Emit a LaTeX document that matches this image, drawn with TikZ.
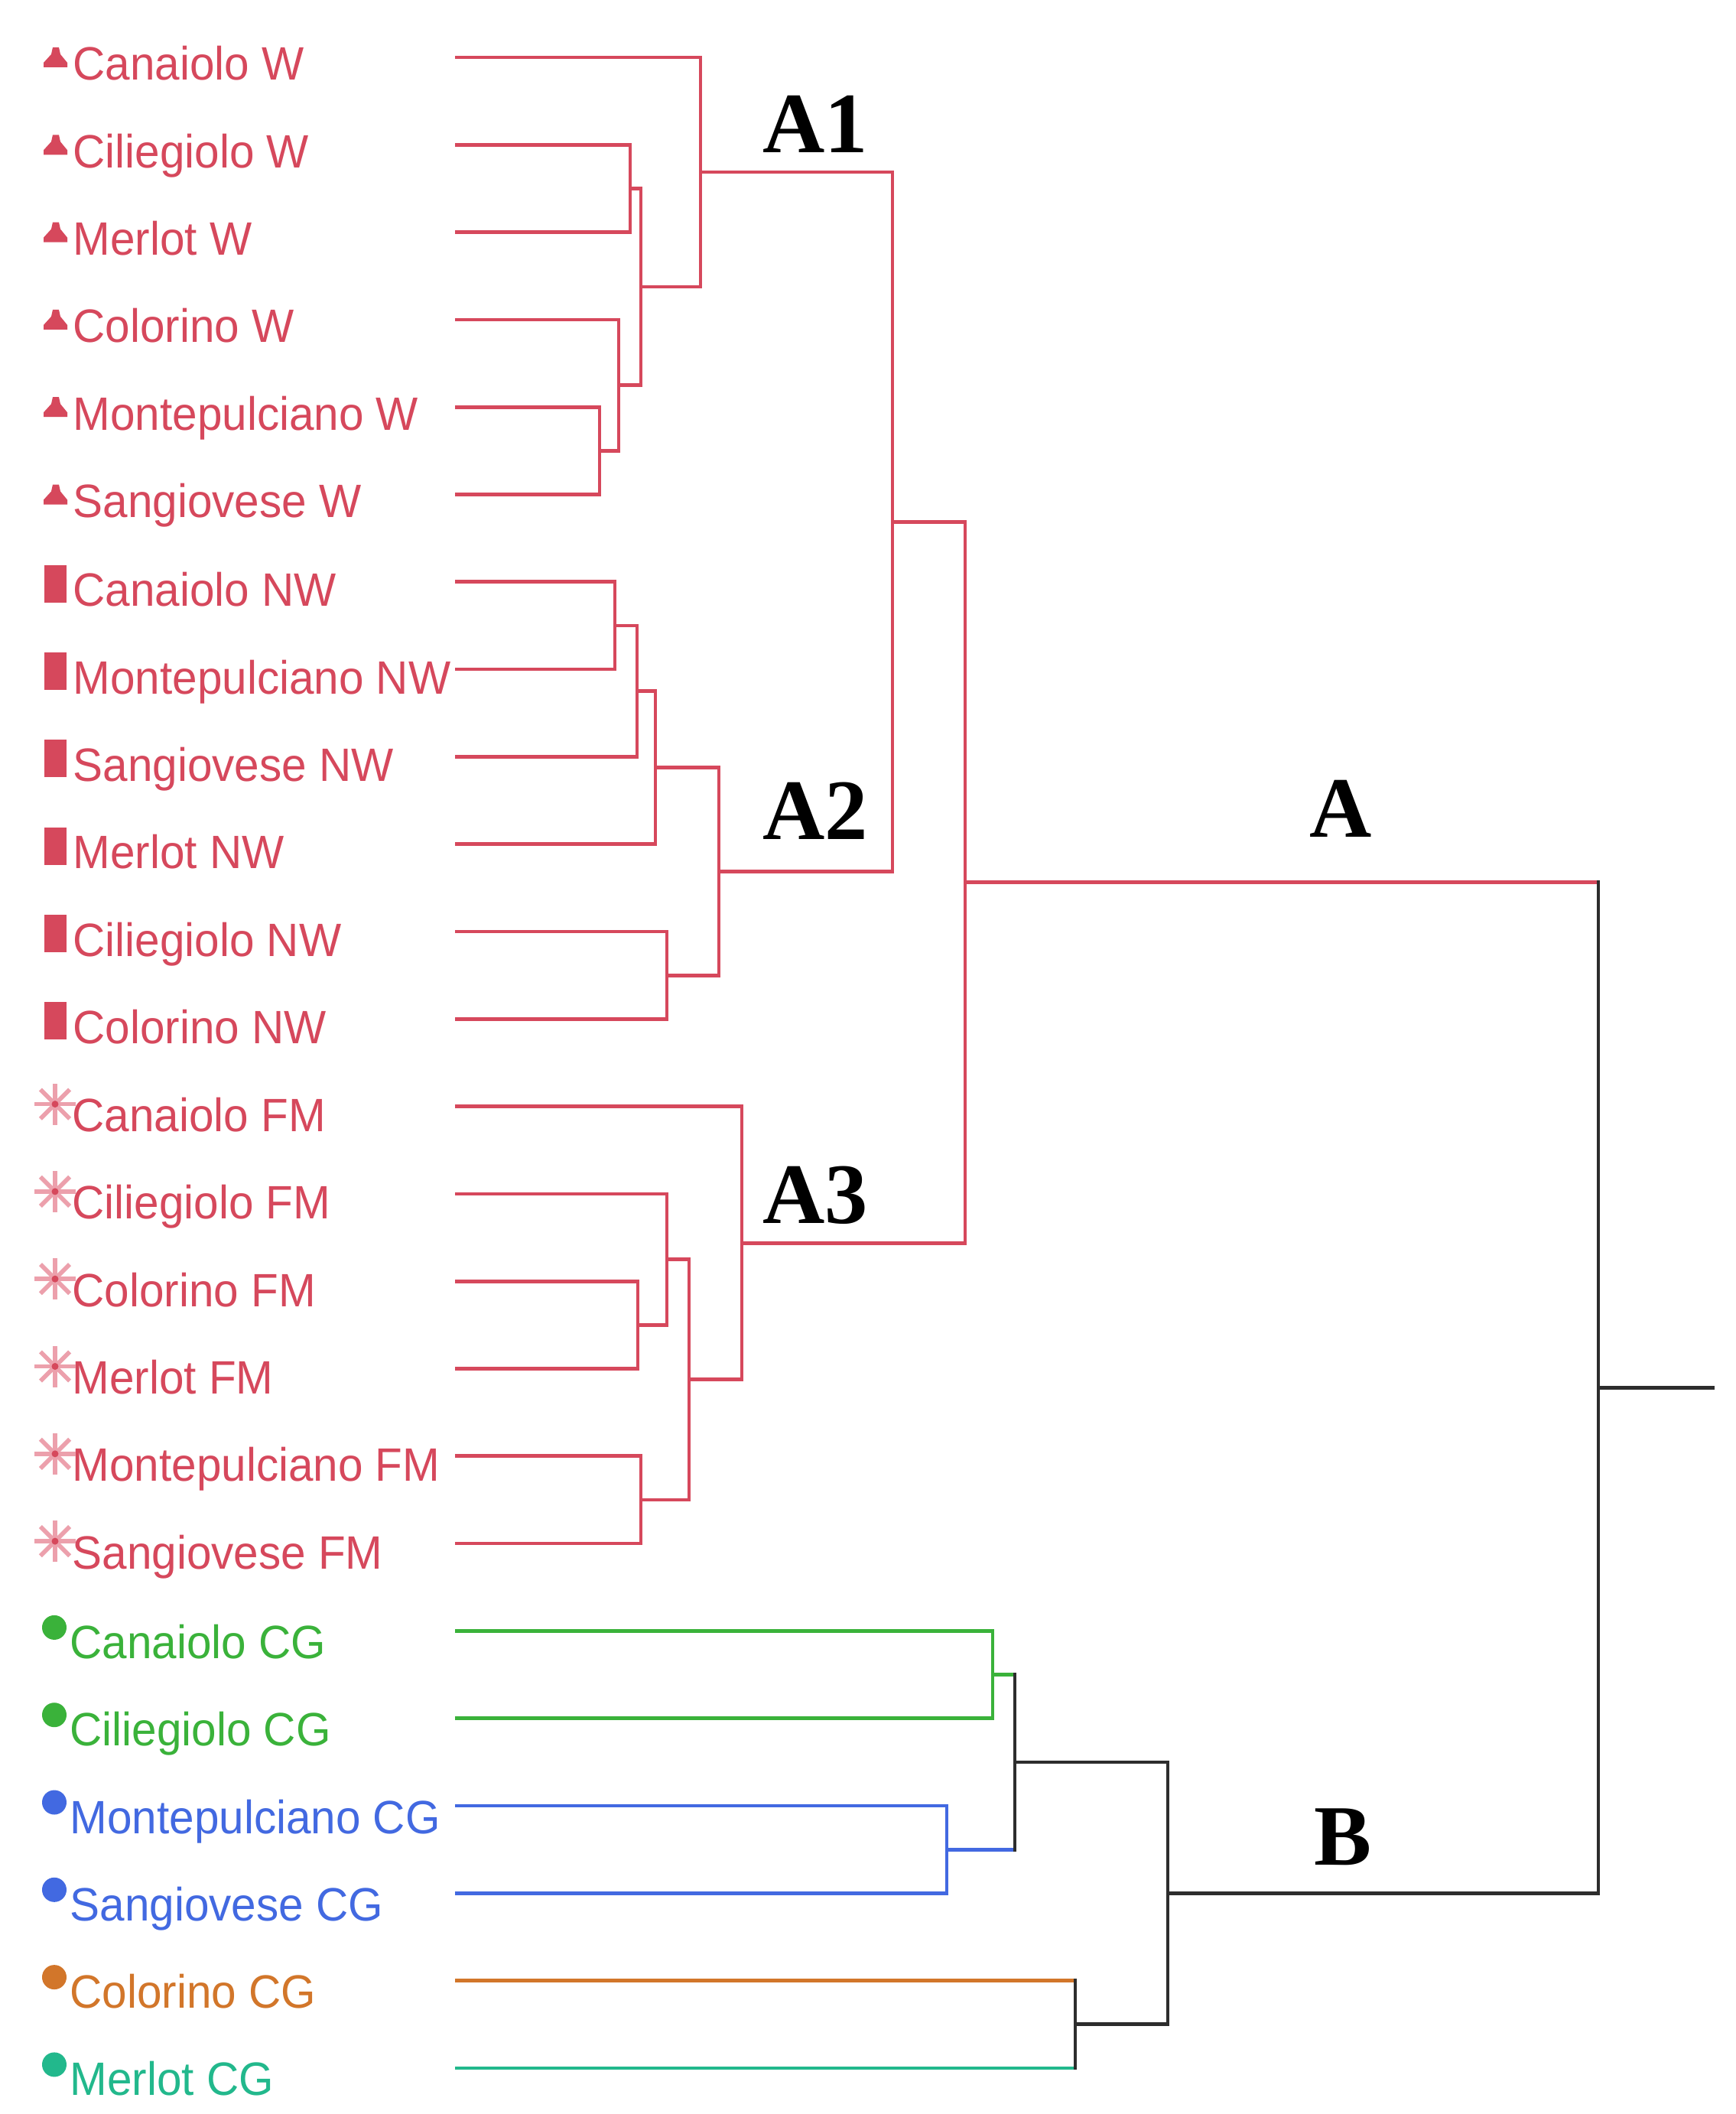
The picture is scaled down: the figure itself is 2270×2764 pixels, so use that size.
\documentclass[tikz,border=0pt]{standalone}
\usepackage{fontspec}
\usepackage{graphicx}
\newfontfamily\labfont{Liberation Sans}
\newfontfamily\grpfont{Liberation Serif}
\definecolor{cred}{RGB}{214,72,92}
\definecolor{cpink}{RGB}{236,160,172}
\definecolor{cgreen}{RGB}{58,178,58}
\definecolor{cblue}{RGB}{66,105,225}
\definecolor{corange}{RGB}{210,118,42}
\definecolor{cteal}{RGB}{34,184,140}
\definecolor{cdark}{RGB}{45,45,45}
\tikzset{
  leaftext/.style={inner sep=0pt, anchor=base west, font=\labfont\fontsize{17.4pt}{20pt}\selectfont},
  grp/.style={inner sep=0pt, anchor=base west, font=\grpfont\bfseries\fontsize{32pt}{36pt}\selectfont},
  ln/.style={line width=1.35pt, line cap=rect, line join=miter},
  rl/.style={ln, draw=cred},
  gl/.style={ln, draw=cgreen},
  bul/.style={ln, draw=cblue},
  ol/.style={ln, draw=corange},
  tl/.style={ln, draw=cteal},
  kl/.style={ln, draw=cdark},
}
% leaf: name, y, text, colour, baseline offset, x of text
\newcommand\lf[6]{%
  \coordinate (#1) at (597,#2);
  \node[leaftext, text=#4] (#1t) at (#6,#2+#5) {\scalebox{0.955}[1]{#3}};}
\newcommand\mtri[1]{\fill[cred] (69,#1-13) -- (77,#1-13) -- (79,#1-4) -- (88,#1+7) -- (88,#1+13) -- (57,#1+13) -- (57,#1+7) -- (67,#1-4) -- cycle;}
\newcommand\mrect[1]{\fill[cred] (58,#1-22) rectangle (87,#1+27);}
\newcommand\mast[1]{%
  \foreach \a in {0,45,90,135} {\draw[cpink, line width=1.6pt] (72,#1-3) ++(\a:27) -- ++(\a+180:54);}
  \fill[cred] (72,#1-3) circle (4.5);}
\newcommand\mdot[2]{\fill[#2] (71,#1-4.5) circle (16);}
\begin{document}
\begin{tikzpicture}[x=0.01cm, y=-0.01cm]
\fill[white] (0,0) rectangle (2270,2764);
\path[use as bounding box] (0,0) rectangle (2270,2764);

% ---- leaves W
\lf{CanW}{75}{Canaiolo W}{cred}{30}{95}
\lf{CilW}{189.3}{Ciliegiolo W}{cred}{30}{95}
\lf{MerW}{303.6}{Merlot W}{cred}{30}{95}
\lf{ColW}{417.9}{Colorino W}{cred}{30}{95}
\lf{MonW}{532.2}{Montepulciano W}{cred}{30}{95}
\lf{SanW}{646.5}{Sangiovese W}{cred}{30}{95}
\foreach \y in {75,189.3,303.6,417.9,532.2,646.5} {\mtri{\y}}
% ---- leaves NW
\lf{CanNW}{760.8}{Canaiolo NW}{cred}{32}{95}
\lf{MonNW}{875.1}{Montepulciano NW}{cred}{32}{95}
\lf{SanNW}{989.4}{Sangiovese NW}{cred}{32}{95}
\lf{MerNW}{1103.7}{Merlot NW}{cred}{32}{95}
\lf{CilNW}{1218}{Ciliegiolo NW}{cred}{32}{95}
\lf{ColNW}{1332.3}{Colorino NW}{cred}{32}{95}
\foreach \y in {760.8,875.1,989.4,1103.7,1218,1332.3} {\mrect{\y}}
% ---- leaves FM
\lf{CanFM}{1446.6}{Canaiolo FM}{cred}{33}{94}
\lf{CilFM}{1560.9}{Ciliegiolo FM}{cred}{33}{94}
\lf{ColFM}{1675.2}{Colorino FM}{cred}{33}{94}
\lf{MerFM}{1789.5}{Merlot FM}{cred}{33}{94}
\lf{MonFM}{1903.8}{Montepulciano FM}{cred}{33}{94}
\lf{SanFM}{2018.1}{Sangiovese FM}{cred}{33}{94}
\foreach \y in {1446.6,1560.9,1675.2,1789.5,1903.8,2018.1} {\mast{\y}}
% ---- leaves CG
\lf{CanCG}{2132.4}{Canaiolo CG}{cgreen}{36}{91}
\lf{CilCG}{2246.7}{Ciliegiolo CG}{cgreen}{36}{91}
\lf{MonCG}{2361}{Montepulciano CG}{cblue}{36}{91}
\lf{SanCG}{2475.3}{Sangiovese CG}{cblue}{36}{91}
\lf{ColCG}{2589.6}{Colorino CG}{corange}{36}{91}
\lf{MerCG}{2703.9}{Merlot CG}{cteal}{36}{91}
\mdot{2132.4}{cgreen}\mdot{2246.7}{cgreen}
\mdot{2361}{cblue}\mdot{2475.3}{cblue}
\mdot{2589.6}{corange}\mdot{2703.9}{cteal}

% ---- internal nodes
\coordinate (w12) at (824,246.45);
\coordinate (w45) at (784,589.35);
\coordinate (w345) at (809,503.6);
\coordinate (w1to5) at (838,375);
\coordinate (A1) at (916,225);
\coordinate (n01) at (804,817.95);
\coordinate (n012) at (833,903.7);
\coordinate (n0123) at (857,1003.7);
\coordinate (n45) at (872,1275.15);
\coordinate (A2) at (940,1139.4);
\coordinate (A12) at (1167,682.2);
\coordinate (f23) at (834,1732.35);
\coordinate (f123) at (872,1646.6);
\coordinate (f45) at (838,1960.95);
\coordinate (f1to5) at (901,1803.8);
\coordinate (A3) at (970,1625.2);
\coordinate (A) at (1262,1153.7);
\coordinate (g01) at (1298,2189.55);
\coordinate (b23) at (1238,2418.15);
\coordinate (gb) at (1327,2303.85);
\coordinate (ot) at (1406,2646.75);
\coordinate (B) at (1527,2475.3);
\coordinate (root) at (2090,1814.5);
\coordinate (rootend) at (2240,1814.5);

% ---- A1
\draw[rl] (CilW) -| (w12) |- (MerW);
\draw[rl] (MonW) -| (w45) |- (SanW);
\draw[rl] (ColW) -| (w345) |- (w45);
\draw[rl] (w12) -| (w1to5) |- (w345);
\draw[rl] (CanW) -| (A1) |- (w1to5);
% ---- A2
\draw[rl] (CanNW) -| (n01) |- (MonNW);
\draw[rl] (n01) -| (n012) |- (SanNW);
\draw[rl] (n012) -| (n0123) |- (MerNW);
\draw[rl] (CilNW) -| (n45) |- (ColNW);
\draw[rl] (n0123) -| (A2) |- (n45);
\draw[rl] (A1) -| (A12) |- (A2);
% ---- A3
\draw[rl] (ColFM) -| (f23) |- (MerFM);
\draw[rl] (CilFM) -| (f123) |- (f23);
\draw[rl] (MonFM) -| (f45) |- (SanFM);
\draw[rl] (f123) -| (f1to5) |- (f45);
\draw[rl] (CanFM) -| (A3) |- (f1to5);
\draw[rl] (A12) -| (A) |- (A3);
% ---- B
\draw[gl] (CanCG) -| (g01) |- (CilCG);
\draw[bul] (MonCG) -| (b23) |- (SanCG);
\draw[gl] (g01) -- (gb |- g01);
\draw[bul] (b23) -- (gb |- b23);
\draw[kl] (gb |- g01) -- (gb |- b23);
\draw[ol] (ColCG) -- (ot |- ColCG);
\draw[tl] (MerCG) -- (ot |- MerCG);
\draw[kl] (ot |- ColCG) -- (ot |- MerCG);
\draw[kl] (gb) -| (B) |- (ot);
% ---- root
\draw[rl] (A) -- (root |- A);
\draw[kl] (root |- A) -- (root |- B);
\draw[kl] (B) -- (root |- B);
\draw[kl] (root) -- (rootend);

% ---- group labels
\node[grp] (labA1) at (997,200) {A1};
\node[grp] (labA2) at (997,1097) {A2};
\node[grp] (labA3) at (997,1599) {A3};
\node[grp] (labA) at (1712,1094) {A};
\node[grp] (labB) at (1718,2438) {B};
\end{tikzpicture}
\end{document}
